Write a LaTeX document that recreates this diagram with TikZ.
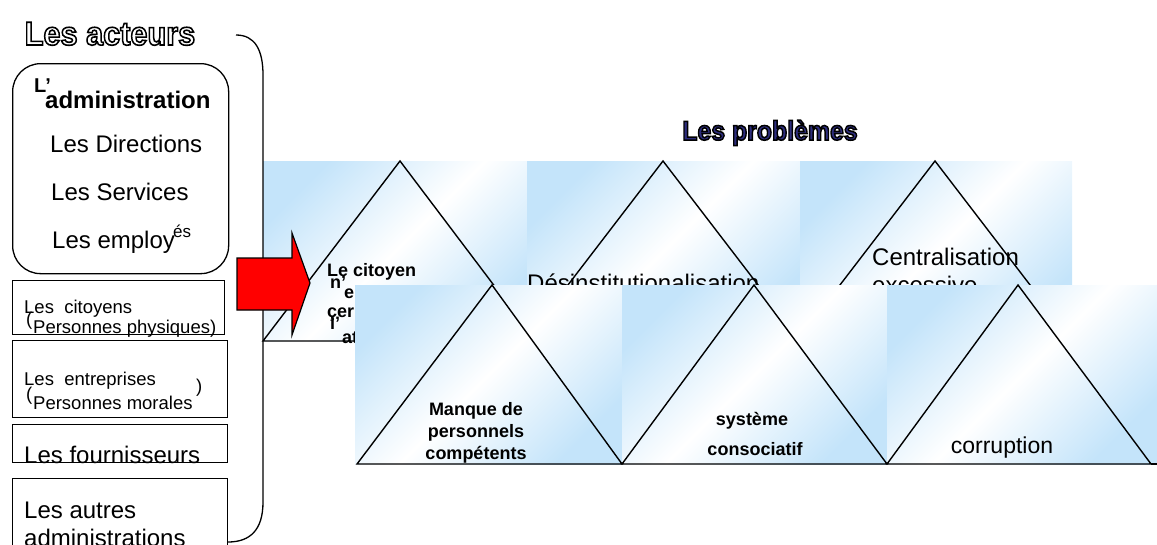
\documentclass[tikz,border=0pt]{standalone}
\usepackage{fontspec}
\setmainfont{Liberation Sans}
\definecolor{pb}{RGB}{196,228,250}
\definecolor{navyt}{RGB}{45,45,125}
\definecolor{arrowred}{RGB}{255,0,0}
\newcommand{\strokedtext}[3]{\special{pdf:literal direct q #1 Tr #2 w 0 G}#3\special{pdf:literal direct Q}}
\tikzset{
  panel/.style={draw=none, top color=pb, bottom color=pb, middle color=white, shading angle=45},
  tri/.style={draw=black, line width=1.4pt},
  boxline/.style={draw=black, line width=1.3pt},
  reg/.style={inner sep=0pt, anchor=base west, font=\fontsize{24}{28}\selectfont},
  regc/.style={inner sep=0pt, anchor=base, font=\fontsize{23}{28}\selectfont},
  small/.style={inner sep=0pt, anchor=base west, font=\fontsize{18.5}{22}\selectfont},
  bld/.style={inner sep=0pt, anchor=base west, font=\fontsize{18}{22}\selectfont\bfseries},
  bldc/.style={inner sep=0pt, anchor=base, font=\fontsize{18}{22}\selectfont\bfseries},
}
\begin{document}
\begin{tikzpicture}[x=1pt,y=-1pt]
\useasboundingbox (0,0) rectangle (1157,544);
% ---------- top row of problems ----------
\shade[panel] (263,161) rectangle (527,341);
\shade[panel] (527,161) rectangle (800,341);
\shade[panel] (800,161) rectangle (1072,341);
\coordinate (t1a) at (400,161); \coordinate (t1l) at (263,341); \coordinate (t1r) at (536,341);
\coordinate (t2a) at (663,161); \coordinate (t2l) at (525,341); \coordinate (t2r) at (801,341);
\coordinate (t3a) at (935,161); \coordinate (t3l) at (797,341); \coordinate (t3r) at (1073,341);
\draw[tri] (t1a) -- (t1l) -- (t1r) -- cycle;
\draw[tri] (t2a) -- (t2l) -- (t2r) -- cycle;
\draw[tri] (t3a) -- (t3l) -- (t3r) -- cycle;
\node[bld] (cit1) at (327,276) {Le citoyen};
\node[bld] (cit2) at (330,288) {n’};
\node[bld] (cit3) at (344,298) {e};
\node[bld] (cit4) at (327,317) {çer};
\node[bld] (cit5) at (330,329) {l’};
\node[bld] (cit6) at (342,343) {at};
\node[reg] (desin) at (527,291) {Désinstitutionalisation};
\node[reg] (centr) at (872,265) {Centralisation};
\node[reg] (exces) at (872,293) {excessive};
% ---------- bottom row of problems ----------
\shade[panel] (355,285) rectangle (622,464);
\shade[panel] (622,285) rectangle (887,464);
\shade[panel] (887,285) rectangle (1157,464);
\coordinate (b1a) at (492,285); \coordinate (b1l) at (357,464); \coordinate (b1r) at (622,464);
\coordinate (b2a) at (754,285); \coordinate (b2l) at (622,464); \coordinate (b2r) at (887,464);
\coordinate (b3a) at (1018,285); \coordinate (b3l) at (887,464); \coordinate (b3r) at (1151,464);
\draw[tri] (b1a) -- (b1l) -- (b1r) -- cycle;
\draw[tri] (b2a) -- (b2l) -- (b2r) -- cycle;
\draw[tri] (b3a) -- (b3l) -- (b3r) -- cycle;
\draw[tri] (b3r) -- (1157,464);
\node[bldc] (mq1) at (476,415) {Manque de};
\node[bldc] (mq2) at (476,437) {personnels};
\node[bldc] (mq3) at (476,459) {compétents};
\node[bldc] (sy1) at (752,425) {système};
\node[bldc] (sy2) at (755,455) {consociatif};
\node[regc] (corr) at (1002,453) {corruption};
% ---------- bracket ----------
\coordinate (brs) at (236,35);
\coordinate (bre) at (228,542);
\draw[line width=1.3pt] (brs) .. controls (255,35) and (263,50) .. (263,75)
  -- (263,502) .. controls (263,530) and (250,542) .. (bre);
% ---------- actors ----------
\node[boxline, rounded corners=28pt, minimum width=216pt, minimum height=210pt, anchor=north west, inner sep=0pt] (admin) at (12,63) {};
\node[inner sep=0pt, anchor=base west, font=\fontsize{20}{24}\selectfont\bfseries] (adL) at (34,92) {L’};
\node[inner sep=0pt, anchor=base west, font=\fontsize{24}{28}\selectfont\bfseries] (adm) at (45,108) {administration};
\node[reg] (dir) at (50,152) {Les Directions};
\node[reg] (serv) at (51,200) {Les Services};
\node[reg] (empl) at (52,248) {Les employ};
\node[inner sep=0pt, anchor=base west, font=\fontsize{17}{20}\selectfont] (empl2) at (173,237) {és};
\node[boxline, minimum width=212pt, minimum height=54pt, anchor=north west, inner sep=0pt] (citb) at (12,280) {};
\node[small] (c1) at (24,313) {Les\ \ citoyens};
\node[small] (c2) at (26,325) {(};
\node[small] (c3) at (33,333) {Personnes physiques)};
\node[boxline, minimum width=215pt, minimum height=77pt, anchor=north west, inner sep=0pt] (entb) at (12,340) {};
\node[small] (e1) at (24,385) {Les\ \ entreprises};
\node[small] (e2) at (26,400) {(};
\node[small] (e3) at (33,409) {Personnes morales};
\node[small] (e4) at (196,392) {)};
\node[boxline, minimum width=215pt, minimum height=38pt, anchor=north west, inner sep=0pt] (fourb) at (12,424) {};
\node[reg] (four) at (24,463) {Les fournisseurs};
\node[boxline, minimum width=215pt, minimum height=80pt, anchor=north west, inner sep=0pt] (autb) at (12,478) {};
\node[reg] (aut1) at (24,518) {Les autres};
\node[reg] (aut2) at (24,546) {administrations};
% ---------- red arrow ----------
\draw[fill=arrowred, draw=black, line width=1.2pt, line join=miter]
  (237,258) -- (292,258) -- (292,233) -- (310,283) -- (292,335) -- (292,310) -- (237,310) -- cycle;
% ---------- titles ----------
\node[inner sep=0pt, anchor=base, font=\fontsize{33}{36}\selectfont\bfseries, xscale=0.93] (tact) at (110,45)
  {\strokedtext{1}{1.6}{Les acteurs}};
\node[inner sep=0pt, anchor=base, font=\fontsize{27}{30}\selectfont\bfseries, xscale=0.92, text=navyt] (tprob) at (770,140)
  {\strokedtext{2}{1.5}{Les problèmes}};
\end{tikzpicture}
\end{document}
